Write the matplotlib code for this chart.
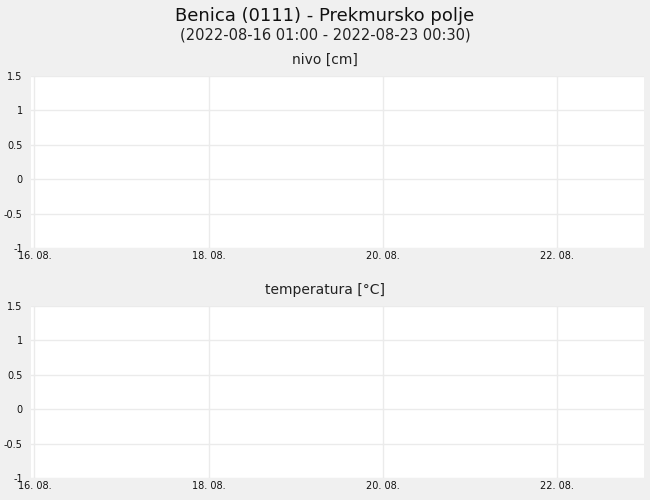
import matplotlib
matplotlib.use("Agg")
import matplotlib.pyplot as plt
import matplotlib.dates as mdates
from datetime import datetime

title = "Benica (0111) - Prekmursko polje"
subtitle = "(2022-08-16 01:00 - 2022-08-23 00:30)"
panel_titles = ["nivo [cm]", "temperatura [°C]"]
y_ticks = [-1, -0.5, 0, 0.5, 1, 1.5]
y_labels = ["-1", "-0.5", "0", "0.5", "1", "1.5"]
x_tick_dates = [datetime(2022, 8, 16), datetime(2022, 8, 18), datetime(2022, 8, 20), datetime(2022, 8, 22)]
x_tick_labels = ["16. 08.", "18. 08.", "20. 08.", "22. 08."]
x_start = datetime(2022, 8, 15, 23, 5)
x_end = datetime(2022, 8, 23, 0, 0)

BG = "#f0f0f0"
GRID = "#ebebeb"
W, H = 650, 500

fig = plt.figure(figsize=(6.5, 5), dpi=100, facecolor=BG)
fig.text(0.5, 1 - 16 / H, title, ha="center", va="center", fontsize=13, color="#111111")
fig.text(0.5, 1 - 35 / H, subtitle, ha="center", va="center", fontsize=10.5, color="#222222")

boxes = [(31, 76, 644, 248), (31, 306, 644, 478)]
title_y = [60, 290]
for (l, t, r, b), pt, ty in zip(boxes, panel_titles, title_y):
    ax = fig.add_axes([l / W, 1 - b / H, (r - l) / W, (b - t) / H])
    ax.set_facecolor("white")
    ax.set_xlim(x_start, x_end)
    ax.set_ylim(-1, 1.5)
    ax.set_yticks(y_ticks)
    ax.set_yticklabels(y_labels)
    ax.set_xticks(x_tick_dates)
    ax.set_xticklabels(x_tick_labels)
    ax.grid(True, color=GRID, linewidth=1)
    ax.set_axisbelow(True)
    for s in ax.spines.values():
        s.set_visible(False)
    ax.tick_params(axis="both", length=0, labelsize=7, colors="#111111")
    ax.tick_params(axis="y", pad=6)
    ax.tick_params(axis="x", pad=2)
    fig.text(0.5, 1 - ty / H, pt, ha="center", va="center", fontsize=10, color="#222222")

fig.savefig("out.png", dpi=100, facecolor=BG)
